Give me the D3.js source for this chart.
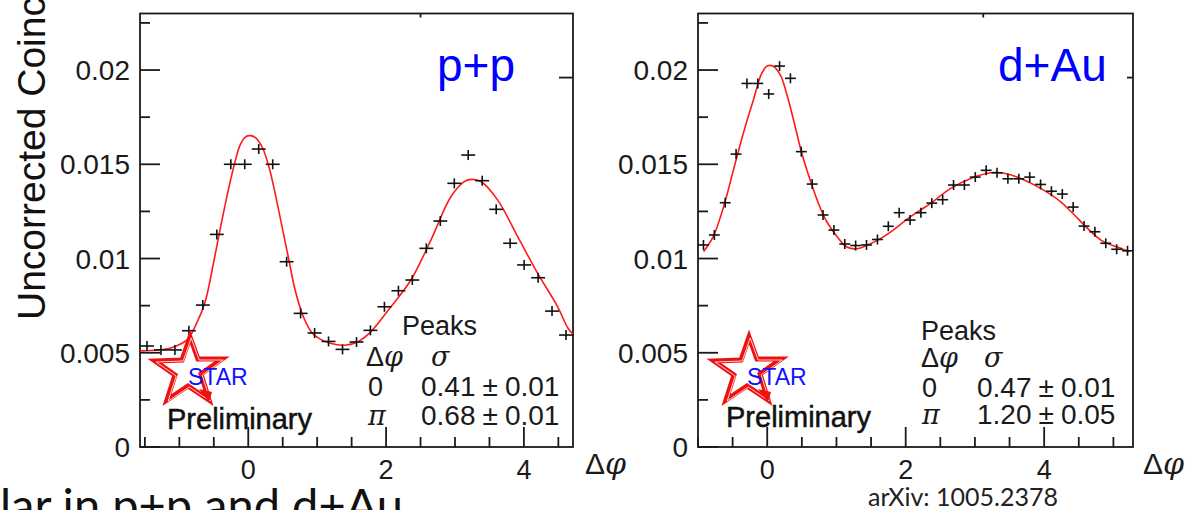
<!DOCTYPE html>
<html>
<head>
<meta charset="utf-8">
<script src="https://cdn.jsdelivr.net/npm/d3@7"></script>
<style>
  html, body { margin: 0; padding: 0; background: #fff; overflow: hidden; }
  svg { display: block; }
</style>
</head>
<body>
<script>
// Δφ correlation functions, p+p and d+Au, with double-Gaussian fits.

// ---- data ----
const yTickValues = [0, 0.005, 0.01, 0.015, 0.02];
const yTickLabels = ["0", "0.005", "0.01", "0.015", "0.02"];
const xTickValues = [0, 2, 4];
const xTickLabels = ["0", "2", "4"];
const systems = ["p+p", "d+Au"];
const peakRowLabels = ["0", "π"];

// p+p measured points (bin centre, yield)
const ppDphi = [-1.469, -1.267, -1.064, -0.861, -0.659, -0.456, -0.253, -0.051, 0.152, 0.355,
                0.557, 0.760, 0.963, 1.165, 1.368, 1.571, 1.773, 1.976, 2.179, 2.381,
                2.584, 2.787, 2.990, 3.192, 3.395, 3.598, 3.800, 4.003, 4.206, 4.408, 4.611];
const ppYield = [0.00536, 0.00515, 0.00515, 0.00617, 0.00753, 0.01128, 0.01500, 0.01500, 0.01581, 0.01500,
                 0.00983, 0.00709, 0.00605, 0.00560, 0.00518, 0.00557, 0.00619, 0.00744, 0.00829, 0.00886,
                 0.01054, 0.01199, 0.01399, 0.01549, 0.01413, 0.01261, 0.01081, 0.00966, 0.00898, 0.00721, 0.00594];

// p+p fit curve
const ppFitDphi = [-1.571, -1.30, -1.135, -0.89, -0.75, -0.625, -0.505, -0.41, -0.31, -0.21, -0.12, -0.04,
                   0.03, 0.10, 0.20, 0.30, 0.39, 0.49, 0.59, 0.68, 0.80, 0.93, 1.05, 1.19, 1.40, 1.60,
                   1.78, 2.07, 2.36, 2.65, 2.94, 3.13, 3.23, 3.38, 3.62, 3.91, 4.20, 4.49, 4.64, 4.71];
const ppFitYield = [0.00510, 0.00515, 0.00524, 0.00568, 0.00656, 0.00771, 0.00975, 0.01151, 0.01328, 0.01487, 0.01600, 0.01645,
                    0.01652, 0.01643, 0.01593, 0.01487, 0.01346, 0.01169, 0.00992, 0.00833, 0.00691, 0.00603, 0.00571, 0.00550, 0.00540, 0.00560,
                    0.00612, 0.00744, 0.00886, 0.01098, 0.01328, 0.01407, 0.01420, 0.01407, 0.01310, 0.01116, 0.00921, 0.00744, 0.00630, 0.00600];

// d+Au measured points
const dauDphi = [-0.921, -0.764, -0.607, -0.450, -0.293, -0.136, 0.021, 0.178, 0.335, 0.492,
                 0.649, 0.806, 0.963, 1.120, 1.277, 1.434, 1.592, 1.749, 1.906, 2.063,
                 2.220, 2.377, 2.534, 2.691, 2.848, 3.005, 3.162, 3.319, 3.476, 3.634,
                 3.791, 3.948, 4.105, 4.262, 4.419, 4.576, 4.733, 4.890, 5.047, 5.204];
const dauYield = [0.01072, 0.01125, 0.01296, 0.01554, 0.01929, 0.01929, 0.01873, 0.02021, 0.01956, 0.01567,
                  0.01395, 0.01231, 0.01151, 0.01077, 0.01069, 0.01072, 0.01101, 0.01171, 0.01243, 0.01204,
                  0.01243, 0.01294, 0.01312, 0.01390, 0.01390, 0.01432, 0.01468, 0.01455, 0.01423, 0.01423,
                  0.01432, 0.01393, 0.01357, 0.01342, 0.01273, 0.01172, 0.01142, 0.01081, 0.01049, 0.01041];

// d+Au fit curve
const dauFitDphi = [-0.92, -0.78, -0.63, -0.49, -0.345, -0.20, -0.08, 0.0, 0.08, 0.19, 0.28, 0.38,
                    0.50, 0.62, 0.74, 0.86, 1.01, 1.15, 1.30, 1.44, 1.64, 1.78, 2.07, 2.36,
                    2.65, 2.94, 3.23, 3.42, 3.66, 3.95, 4.24, 4.39, 4.82, 5.11, 5.23];
const dauFitYield = [0.01036, 0.01116, 0.01275, 0.01467, 0.01665, 0.01841, 0.01982, 0.02021, 0.02021, 0.01973, 0.01875, 0.01735,
                     0.01557, 0.01416, 0.01292, 0.01195, 0.01116, 0.01061, 0.01052, 0.01070, 0.01107, 0.01140, 0.01222, 0.01293,
                     0.01372, 0.01425, 0.01455, 0.01452, 0.01425, 0.01372, 0.01301, 0.01248, 0.01098, 0.01054, 0.01036];

// fitted peak widths (near side, away side)
const ppSigma = ["0.41±0.01", "0.68±0.01"];
const dauSigma = ["0.47±0.01", "1.20±0.05"];

// ---- layout ----
const W = 1187, H = 510;
const Y0 = 447, YTOP = 13.5;
const axisFont = "'Liberation Sans', Arial, Helvetica, sans-serif";
const slideFont = "Lato, 'Open Sans', sans-serif";
const greek = "'DejaVu Serif', serif";

const panels = [
  { sys: systems[0], dphi: ppDphi, yld: ppYield, fitX: ppFitDphi, fitY: ppFitYield, sigma: ppSigma,
    domain: [-Math.PI / 2, 3 * Math.PI / 2], left: 140, right: 573,
    sysX: 437, starX: 155, prelimX: 167, prelimY: 429,
    peaksX: 402, peaksY: 335, hdrX: 366, hdrY: 366, sigX: 431,
    rowX: 368, rowY: [396, 425], valX: 421, titleX: 585,
    edgeTickY: 0.0196, edgeTickLen: 14, topTickX: 2.5 },
  { sys: systems[1], dphi: dauDphi, yld: dauYield, fitX: dauFitDphi, fitY: dauFitYield, sigma: dauSigma,
    domain: [-1, 2 * Math.PI - 1], left: 698, right: 1133,
    sysX: 998, starX: 714, prelimX: 726, prelimY: 427,
    peaksX: 921, peaksY: 340, hdrX: 921, hdrY: 367, sigX: 984,
    rowX: 922, rowY: [397, 424], valX: 977, titleX: 1143,
    edgeTickY: 0.0196, edgeTickLen: 6, topTickX: 3.12 }
];

const svg = d3.select("body").append("svg")
  .attr("width", W).attr("height", H)
  .attr("viewBox", `0 0 ${W} ${H}`);

svg.append("rect").attr("width", W).attr("height", H).attr("fill", "#fff");

const y = d3.scaleLinear().domain([0, 0.023]).range([Y0, YTOP]);

// vertical axis title, runs off the top of the page
svg.append("text")
  .attr("transform", "translate(45,320) rotate(-90)")
  .attr("font-family", axisFont)
  .attr("font-size", 39)
  .attr("fill", "#111")
  .text("Uncorrected Coincidences");

function drawStar(g, x0, y0) {
  // STAR collaboration logo: outlined star with the name inside
  const pts = [[35, 0], [43, 22], [67, 22], [46, 37], [54, 63], [33, 49], [12, 63], [20, 38], [0, 24], [27, 23]];
  const star = g.append("g").attr("transform", `translate(${x0},${y0})`);
  const d = "M" + pts.map(p => p.join(",")).join("L") + "Z";
  star.append("path")
    .attr("d", d)
    .attr("fill", "none").attr("stroke", "#f01010").attr("stroke-width", 5)
    .attr("stroke-linejoin", "miter");
  star.append("path")
    .attr("d", d)
    .attr("fill", "none").attr("stroke", "#fff").attr("stroke-width", 0.8)
    .attr("transform", "translate(1.2,1)");
  star.append("path")
    .attr("d", "M44,52 L57,55 L54,65 Z")
    .attr("fill", "#f01010");
  star.append("text")
    .attr("x", 33).attr("y", 48)
    .attr("font-family", axisFont).attr("font-size", 23)
    .attr("fill", "#1010ff")
    .text("STAR");
}

panels.forEach(p => {
  const x = d3.scaleLinear().domain(p.domain).range([p.left, p.right]);
  const g = svg.append("g");
  const ink = "#1a1a1a";

  // y ticks: labelled every 0.005, minor every 0.0025
  const yMinor = d3.range(0, 0.0230, 0.0025);
  g.selectAll(".yt").data(yMinor).join("line")
    .attr("x1", p.left)
    .attr("x2", d => p.left + (Math.abs(d / 0.005 - Math.round(d / 0.005)) < 1e-6 ? 20 : 10))
    .attr("y1", d => y(d)).attr("y2", d => y(d))
    .attr("stroke", ink).attr("stroke-width", 1.8);

  g.selectAll(".yl").data(yTickValues).join("text")
    .attr("x", p.left - 10).attr("y", d => y(d))
    .attr("dy", "0.36em")
    .attr("text-anchor", "end")
    .attr("font-family", axisFont).attr("font-size", 28)
    .attr("fill", ink)
    .text((d, i) => yTickLabels[i]);

  // x ticks every 0.5 rad, longer at the labelled values
  const xMinor = d3.range(Math.ceil(p.domain[0] * 2) / 2, p.domain[1], 0.5);
  g.selectAll(".xt").data(xMinor).join("line")
    .attr("x1", d => x(d)).attr("x2", d => x(d))
    .attr("y1", Y0)
    .attr("y2", d => Y0 - (xTickValues.includes(d) ? 20 : 10))
    .attr("stroke", ink).attr("stroke-width", 1.8);

  g.selectAll(".xl").data(xTickValues).join("text")
    .attr("x", d => x(d)).attr("y", 479)
    .attr("text-anchor", "middle")
    .attr("font-family", axisFont).attr("font-size", 27)
    .attr("fill", ink)
    .text((d, i) => xTickLabels[i]);

  // stray ticks on the top and right edges of the frame
  g.append("line")
    .attr("x1", p.right).attr("x2", p.right - p.edgeTickLen)
    .attr("y1", y(p.edgeTickY)).attr("y2", y(p.edgeTickY))
    .attr("stroke", ink).attr("stroke-width", 1.8);
  g.append("line")
    .attr("x1", x(p.topTickX)).attr("x2", x(p.topTickX))
    .attr("y1", YTOP).attr("y2", YTOP + 4)
    .attr("stroke", ink).attr("stroke-width", 1.8);

  // frame
  g.append("rect")
    .attr("x", p.left).attr("y", YTOP)
    .attr("width", p.right - p.left).attr("height", Y0 - YTOP)
    .attr("fill", "none").attr("stroke", ink).attr("stroke-width", 1.8);

  // fit curve
  const fit = p.fitX.map((v, i) => [v, p.fitY[i]]);
  g.append("path")
    .datum(fit)
    .attr("d", d3.line().x(d => x(d[0])).y(d => y(d[1])).curve(d3.curveCatmullRom.alpha(0.5)))
    .attr("fill", "none").attr("stroke", "#ff1a1a").attr("stroke-width", 1.6);

  // data points: bin-width bar plus vertical marker arm
  const pts = p.dphi.map((v, i) => ({ v, val: p.yld[i] }));
  const half = (x(p.dphi[1]) - x(p.dphi[0])) / 2;
  const pg = g.append("g").attr("stroke", "#111").attr("stroke-width", 1.6);
  pg.selectAll(".h").data(pts).join("line")
    .attr("x1", d => x(d.v) - half).attr("x2", d => x(d.v) + half)
    .attr("y1", d => y(d.val)).attr("y2", d => y(d.val));
  pg.selectAll(".v").data(pts).join("line")
    .attr("x1", d => x(d.v)).attr("x2", d => x(d.v))
    .attr("y1", d => y(d.val) - 5).attr("y2", d => y(d.val) + 5);

  // collision system
  g.append("text")
    .attr("x", p.sysX).attr("y", 81)
    .attr("font-family", axisFont).attr("font-size", 46)
    .attr("fill", "#0000ff")
    .text(p.sys);

  // logo and "Preliminary"
  drawStar(g, p.starX, 337);
  g.append("text")
    .attr("x", p.prelimX).attr("y", p.prelimY)
    .attr("font-family", axisFont).attr("font-size", 29)
    .attr("fill", "#111").attr("stroke", "#111").attr("stroke-width", 0.5)
    .text("Preliminary");

  // peak-width table
  const tf = (sel) => sel.attr("font-family", axisFont).attr("font-size", 27).attr("fill", ink);
  tf(g.append("text").attr("x", p.peaksX).attr("y", p.peaksY).text("Peaks"));
  const hdr = tf(g.append("text").attr("x", p.hdrX).attr("y", p.hdrY));
  hdr.append("tspan").text("Δ");
  hdr.append("tspan").attr("font-family", greek).attr("font-style", "italic").text("φ");
  tf(g.append("text").attr("x", p.sigX).attr("y", p.hdrY))
    .attr("font-family", greek).attr("font-style", "italic").text("σ");
  peakRowLabels.forEach((lab, i) => {
    const t = tf(g.append("text").attr("x", p.rowX).attr("y", p.rowY[i]).text(lab));
    if (i === 1) t.attr("font-family", greek).attr("font-style", "italic");
    // value, ± and error set apart as in the fit printout
    const [val, err] = p.sigma[i].split("±");
    const vt = tf(g.append("text").attr("x", p.valX).attr("y", p.rowY[i])).attr("font-size", 28);
    vt.append("tspan").text(val);
    vt.append("tspan").attr("dx", 7).text("±");
    vt.append("tspan").attr("dx", 7).text(err);
  });

  // Δφ axis title
  const at = g.append("text")
    .attr("x", p.titleX).attr("y", 474)
    .attr("font-family", axisFont).attr("font-size", 30).attr("fill", ink);
  at.append("tspan").text("Δ");
  at.append("tspan").attr("font-family", greek).attr("font-style", "italic").text("φ");
});

// slide text along the bottom edge
svg.append("text")
  .attr("x", 0).attr("y", 522)
  .attr("font-family", slideFont).attr("font-size", 47)
  .attr("fill", "#111")
  .text("lar in p+p and d+Au");

svg.append("text")
  .attr("x", 868).attr("y", 506)
  .attr("font-family", slideFont).attr("font-size", 25)
  .attr("fill", "#222")
  .text("arXiv: 1005.2378");
</script>
</body>
</html>
